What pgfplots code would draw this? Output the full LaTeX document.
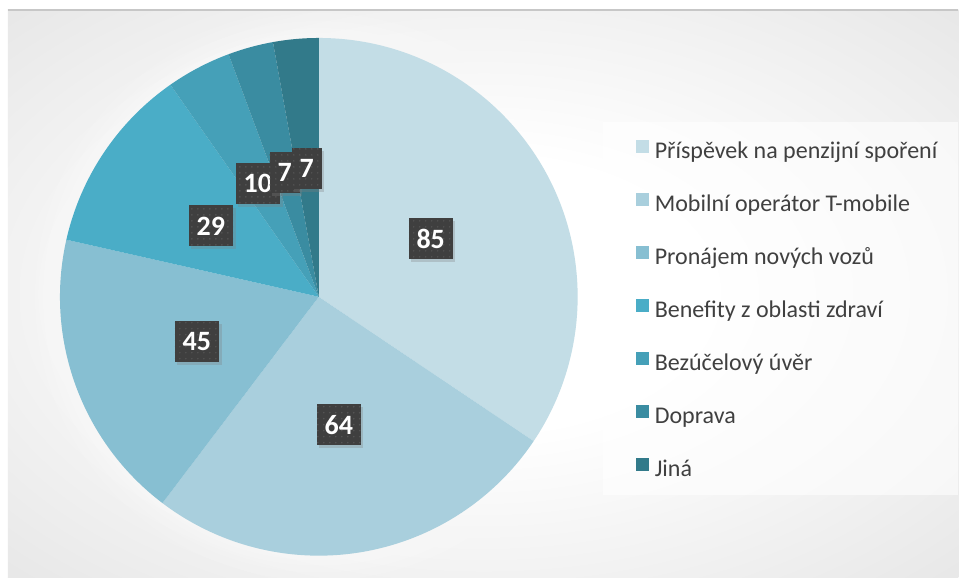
\documentclass[border=0pt]{standalone}
\usepackage{fontspec}
\setmainfont{Carlito}
\usepackage{pgfplots}
\usepackage{pgfplotstable}
\pgfplotsset{compat=1.18}
\usetikzlibrary{patterns.meta,shadows}

\definecolor{c0}{HTML}{C3DDE6}
\definecolor{c1}{HTML}{A9CFDD}
\definecolor{c2}{HTML}{87BFD2}
\definecolor{c3}{HTML}{4AADC7}
\definecolor{c4}{HTML}{45A0B8}
\definecolor{c5}{HTML}{3A8CA1}
\definecolor{c6}{HTML}{327A8A}
\definecolor{lbl}{HTML}{3F3F3F}
\definecolor{dotc}{HTML}{575757}
\definecolor{txt}{HTML}{404040}

\pgfdeclareradialshading{bgshade}{\pgfpoint{0bp}{0bp}}{color(0bp)=(white); color(12bp)=(white); color(50bp)=(black!15); color(71bp)=(black!24)}

% value = slice size; lx, ly = label position
\pgfplotstableread{
value lx ly
85 431 339
64 339 153
45 197 236
29 211 352
10 258 394
7 285 405
7 307 409
}\piedata

\def\total{0}
\pgfplotsforeachungrouped \i in {0,...,6}{%
  \pgfplotstablegetelem{\i}{value}\of\piedata
  \pgfmathsetmacro\total{\total+\pgfplotsretval}%
}
\def\cum{0}
\pgfplotsforeachungrouped \i in {0,...,6}{%
  \pgfplotstablegetelem{\i}{value}\of\piedata
  \pgfmathsetmacro\sa{90-360*(\cum/\total)}%
  \pgfmathsetmacro\cum{\cum+\pgfplotsretval}%
  \pgfmathsetmacro\ea{90-360*(\cum/\total)}%
  \expandafter\xdef\csname sA\i\endcsname{\sa}%
  \expandafter\xdef\csname eA\i\endcsname{\ea}%
}

\begin{document}
\begin{tikzpicture}
\begin{axis}[
  x=1pt, y=1pt, xmin=0, xmax=959, ymin=0, ymax=578,
  scale only axis, hide axis, clip=false,
  legend style={at={(axis cs:636,438.3)}, anchor=north west, draw=none, fill=none,
    inner sep=0pt, font=\fontsize{24}{24}\selectfont, text=txt,
    row sep=29.6pt, column sep=6pt,
    nodes={inner sep=0pt, text height=16pt, text depth=5pt}},
  legend cell align=left,
  legend image code/.code={\fill[#1] (0pt,0pt) rectangle (13pt,13pt);},
]
% background
\fill[white] (axis cs:0,0) rectangle (axis cs:959,578);
\shade[shading=bgshade] (axis cs:8,0) rectangle (axis cs:959,568);
\draw[black!22, line width=1.2pt] (axis cs:8,568) -- (axis cs:959,568);
% halo
\fill[white, opacity=0.10] (axis cs:319,281) circle[radius=284pt];
\fill[white, opacity=0.10] (axis cs:319,281) circle[radius=276pt];
\fill[white, opacity=0.10] (axis cs:319,281) circle[radius=269pt];
\fill[white, opacity=0.10] (axis cs:319,281) circle[radius=264pt];
% legend box
\fill[white, opacity=0.6] (axis cs:603,83) rectangle (axis cs:959,456);
% pie wedges
\pgfplotsinvokeforeach{0,...,6}{
  \edef\temp{\noexpand\fill[c#1] (axis cs:319,281) -- ++(\csname sA#1\endcsname:259pt) arc[start angle=\csname sA#1\endcsname, end angle=\csname eA#1\endcsname, radius=259pt] -- cycle;}
  \temp
}
% data labels
\addplot[draw=none, mark=none, forget plot, point meta=explicit symbolic,
  nodes near coords,
  nodes near coords style={anchor=center, fill=lbl, text=white,
    font=\fontsize{28}{28}\selectfont\bfseries,
    minimum height=41pt, inner xsep=8pt, inner ysep=0pt,
    drop shadow={shadow xshift=2.5pt, shadow yshift=-2.5pt, opacity=0.3},
    postaction={pattern={Dots[distance=6pt, radius=0.8pt]}, pattern color=dotc}}]
  table[x=lx, y=ly, meta=value] {\piedata};
% legend
\addlegendimage{fill=c0, draw=none}\addlegendentry{Příspěvek na penzijní spoření}
\addlegendimage{fill=c1, draw=none}\addlegendentry{Mobilní operátor T-mobile}
\addlegendimage{fill=c2, draw=none}\addlegendentry{Pronájem nových vozů}
\addlegendimage{fill=c3, draw=none}\addlegendentry{Benefity z oblasti zdraví}
\addlegendimage{fill=c4, draw=none}\addlegendentry{Bezúčelový úvěr}
\addlegendimage{fill=c5, draw=none}\addlegendentry{Doprava}
\addlegendimage{fill=c6, draw=none}\addlegendentry{Jiná}
\end{axis}
\end{tikzpicture}
\end{document}
